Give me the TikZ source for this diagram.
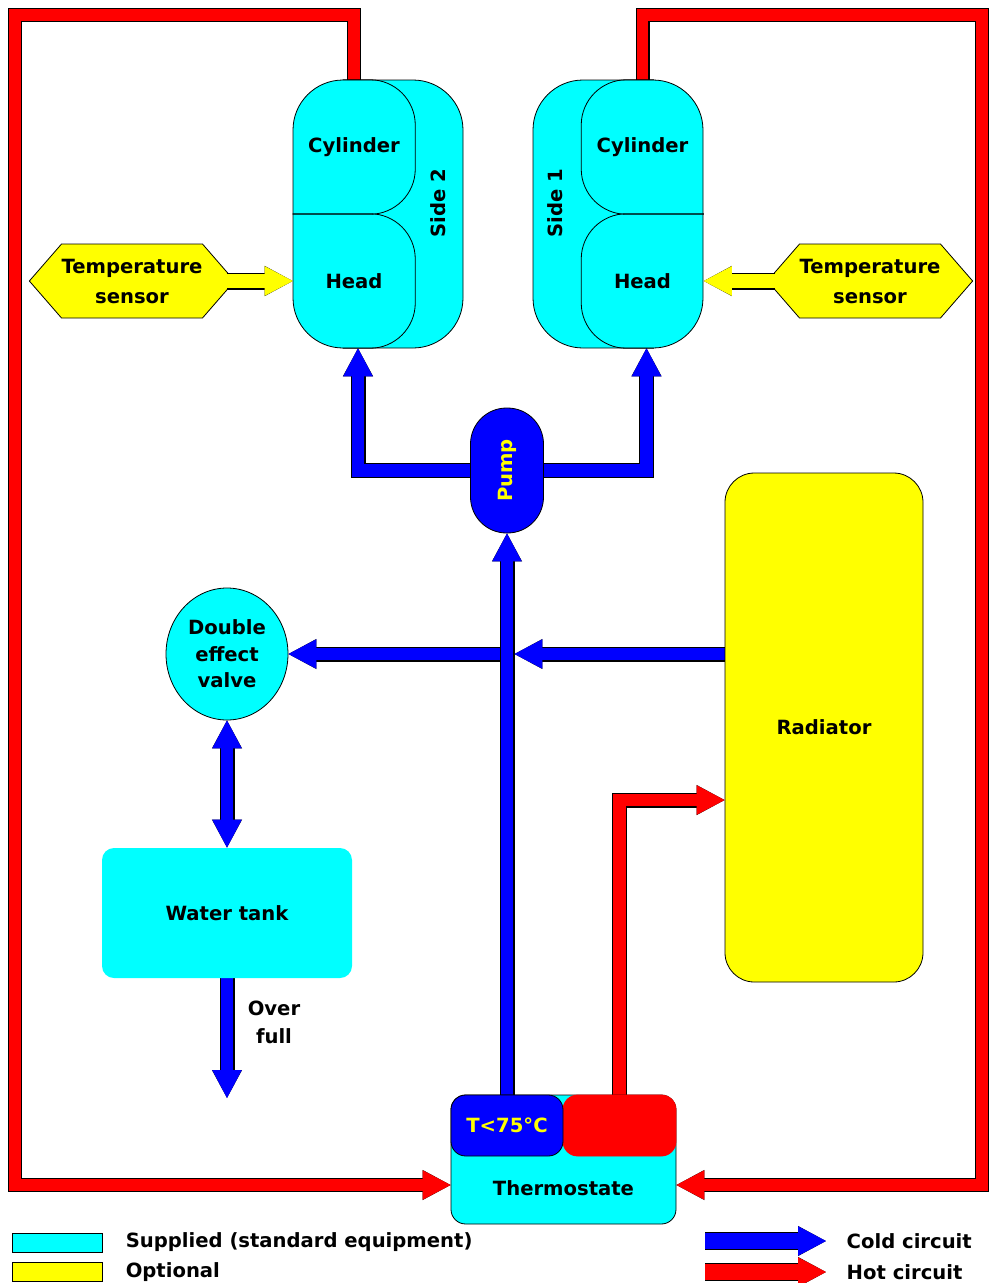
\documentclass[tikz,border=0pt]{standalone}
\usepackage{fontspec}
\setmainfont{DejaVu Sans}
\usetikzlibrary{arrows.meta, positioning, calc, shapes.geometric, shapes.symbols, backgrounds}

\definecolor{supplied}{RGB}{0,255,255}
\definecolor{optional}{RGB}{255,255,0}
\definecolor{coldc}{RGB}{0,0,255}
\definecolor{hotc}{RGB}{255,0,0}

\tikzset{
    tipfill/.tip={Triangle[length=21pt, width=22pt, line width'=0.8pt]},
    tipedge/.tip={Triangle[length=21pt, width=22pt, line width'=2.4pt]}
}

\begin{document}
\begin{tikzpicture}[
    x=0.75pt, y=-0.75pt,
    lbl/.style={font=\bfseries\fontsize{14.7}{21}\selectfont, align=center},
    part/.style={rectangle, draw=black, line width=0.6pt, fill=supplied, rounded corners=#1, lbl},
    part/.default=11pt,
    half/.style={rectangle, inner sep=0pt, minimum width=91.5pt, minimum height=100.5pt, lbl},
    sensor/.style={signal, signal to=west and east, signal pointer angle=98, draw=black, line width=0.6pt, fill=optional, minimum width=140pt, minimum height=55.5pt, inner sep=0pt, font=\bfseries\fontsize{14.7}{22.5}\selectfont, align=center},
    legbox/.style={rectangle, draw=black, line width=0.6pt, minimum width=67.5pt, minimum height=14.25pt, inner sep=0pt},
    arr/.style={line width=#1-1.6pt, -tipfill, preaction={draw=black, line width=#1, -tipedge}},
    arr/.default=11.25pt,
    dblarr/.style={line width=#1-1.6pt, tipfill-tipfill, preaction={draw=black, line width=#1, tipedge-tipedge}},
    dblarr/.default=11.25pt
]
    \useasboundingbox (0,0) rectangle (990,1283);

    % Side 2
    \node[part=37.5pt, minimum width=127.5pt, minimum height=201pt] (side2) at (378,214) {};
    \node[half] (cyl2) at (354,147) {Cylinder};
    \node[half] (head2) at (354,281) {Head};
    \node[lbl, rotate=90] (side2lbl) at (438,203) {Side 2};
    \draw[line width=0.6pt, rounded corners=34pt] ([xshift=37.5pt]cyl2.north west) -- (cyl2.north east) -- (cyl2.south east) -- (cyl2.south west);
    \draw[line width=0.6pt, rounded corners=34pt] (head2.north west) -- (head2.north east) -- (head2.south east) -- ([xshift=37.5pt]head2.south west);

    % Side 1
    \node[part=37.5pt, minimum width=127.5pt, minimum height=201pt] (side1) at (618,214) {};
    \node[half] (cyl1) at (642.5,147) {Cylinder};
    \node[half] (head1) at (642.5,281) {Head};
    \node[lbl, rotate=90] (side1lbl) at (555,203) {Side 1};
    \draw[line width=0.6pt, rounded corners=34pt] ([xshift=-37.5pt]cyl1.north east) -- (cyl1.north west) -- (cyl1.south west) -- (cyl1.south east);
    \draw[line width=0.6pt, rounded corners=34pt] (head1.north east) -- (head1.north west) -- (head1.south west) -- ([xshift=-37.5pt]head1.south east);

    % Sensors
    \node[sensor] (tsL) at (132,281) {Temperature\\sensor};
    \node[sensor] (tsR) at (870,281) {Temperature\\sensor};
    \draw[arr=12.75pt, optional] ([xshift=-6pt]tsL.east) -- (head2.west);
    \draw[arr=12.75pt, optional] ([xshift=6pt]tsR.west) -- (head1.east);

    % Pump, valve, tank, radiator
    \node[part=27pt, fill=coldc, minimum width=54.75pt, minimum height=93.75pt, label={[lbl, rotate=90, text=optional]center:Pump}] (pump) at (507,470.5) {};
    \node[ellipse, draw=black, line width=0.6pt, fill=supplied, minimum width=91.5pt, minimum height=99pt, inner sep=0pt, lbl, font=\bfseries\fontsize{14.7}{20}\selectfont] (valve) at (227,654) {Double\\effect\\valve};
    \node[part=9pt, draw=none, minimum width=187.5pt, minimum height=97.5pt] (tank) at (227,913) {Water tank};
    \node[part=22pt, fill=optional, minimum width=148.5pt, minimum height=381.75pt] (rad) at (824,727.5) {Radiator};
    \node[lbl] (overfull) at (274,1022) {Over\\full};

    % Thermostate
    \node[part=11pt, minimum width=168.75pt, minimum height=96.75pt] (therm) at (563.5,1159.5) {};
    \node[part=11pt, fill=hotc, draw=hotc, minimum width=84.75pt, minimum height=45.75pt] (tred) at (619.5,1125.5) {};
    \node[part=11pt, fill=coldc, text=optional, minimum width=84pt, minimum height=45.75pt] (tblue) at (507,1125.5) {T<75°C};
    \node[lbl] (thermlbl) at ([yshift=27pt]therm.south) {Thermostate};

    \coordinate (tee) at (valve.east -| pump.south);
    \coordinate (drain) at (227,1098);
    \coordinate (nwc) at (15,15);
    \coordinate (nec) at (982,15);
    \coordinate (swc) at (15,1185);
    \coordinate (sec) at (982,1185);

    % Circuits
    \begin{scope}[on background layer]
        \draw[arr, coldc] (tblue.north) -- (pump.south);
        \draw[arr, coldc] (pump.west) -| ([xshift=3pt]head2.south);
        \draw[arr, coldc] (pump.east) -| ([xshift=3pt]head1.south);
        \draw[arr, coldc] ([xshift=-5.6pt]tee) -- (valve.east);
        \draw[arr, coldc] (rad.west |- tee) -- ([xshift=5.6pt]tee);
        \draw[dblarr, coldc] (valve.south) -- (tank.north);
        \draw[arr, coldc] (tank.south) -- (drain);
        \draw[arr, hotc] (tred.north) |- ([yshift=-54.4pt]rad.west);
        \draw[arr=10.5pt, hotc] (cyl2.north) |- (nwc) -- (swc) -- (therm.west |- swc);
        \draw[arr=10.5pt, hotc] (cyl1.north) |- (nec) -- (sec) -- (therm.east |- sec);
    \end{scope}

    % Legend
    \node[legbox, fill=supplied] (legsup) at (57,1242.5) {};
    \node[legbox, fill=optional, below=7.5pt of legsup] (legopt) {};
    \node[lbl, right=14pt of legsup] (legsuptxt) {Supplied (standard equipment)};
    \node[lbl, right=14pt of legopt] (legopttxt) {Optional};
    \coordinate (coldA) at (705,1241);
    \coordinate (coldB) at (826,1241);
    \coordinate (hotA) at (705,1272);
    \coordinate (hotB) at (826,1272);
    \draw[arr=13.5pt, coldc] (coldA) -- (coldB);
    \draw[arr=13.5pt, hotc] (hotA) -- (hotB);
    \node[lbl, right=12pt of coldB] (coldtxt) {Cold circuit};
    \node[lbl, right=12pt of hotB] (hottxt) {Hot circuit};
\end{tikzpicture}
\end{document}
